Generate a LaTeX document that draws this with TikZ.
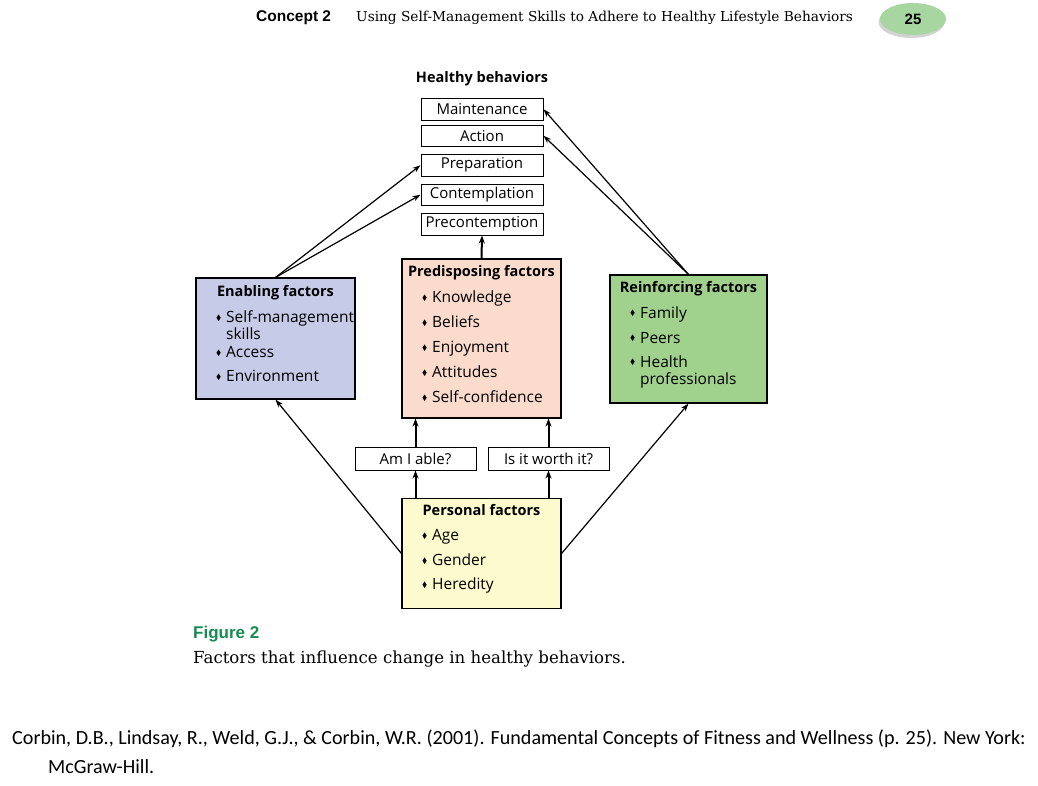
\documentclass[tikz,border=0pt]{standalone}
\usepackage{amssymb}
\usepackage{fontspec}
\setmainfont{Open Sans}
\newfontfamily\serifo{DejaVu Serif}
\newfontfamily\helv{Liberation Sans}
\newfontfamily\cita{Carlito}
\usetikzlibrary{positioning,arrows.meta,shapes.geometric,shadows}
\definecolor{azul}{RGB}{198,203,232}
\definecolor{salmon}{RGB}{251,220,204}
\definecolor{verde}{RGB}{160,210,141}
\definecolor{amarillo}{RGB}{253,251,205}
\definecolor{verdefig}{RGB}{22,140,80}
\definecolor{verdepag}{RGB}{168,214,160}
\tikzset{arista/.style={line width=1.2pt,-{Stealth[length=8pt,width=5.5pt]}}}
\tikzset{aristagruesa/.style={line width=2pt,-{Stealth[length=8pt,width=6pt]}}}
\tikzset{etapa/.style={draw,line width=1pt,fill=white,minimum width=122pt,minimum height=21.5pt,inner sep=0pt}}
\tikzset{factor/.style={draw,line width=1.1pt,align=center,inner sep=0pt}}
\tikzset{pregunta/.style={draw,line width=1pt,minimum width=121pt,minimum height=23pt,inner sep=0pt}}
\tikzset{texto/.style={inner sep=0pt,anchor=west}}
\newcommand{\punto}{\raisebox{0.28ex}{\scalebox{0.5}{$\blacklozenge$}}\nobreak\hspace{5pt}\nobreak}
\newcommand{\encab}[1]{{\bfseries\fontsize{14.5}{17}\selectfont #1}}
\newcommand{\lista}[2]{\parbox[t]{#1}{\raggedright\hyphenpenalty=10000\exhyphenpenalty=10000\fontsize{15.5}{17}\selectfont #2\par\vspace{9pt}}}

\begin{document}
\begin{tikzpicture}[x=1pt,y=-1pt,every node/.style={font=\fontsize{15}{17}\selectfont}]
            \useasboundingbox (0,0) rectangle (1038,785);
            \node[texto,font=\helv\bfseries\fontsize{15.5}{17}\selectfont] (concepto) at (256,18) {Concept 2};
            \node[texto,font=\serifo\fontsize{13.7}{17}\selectfont] (titular) at (356,18) {Using Self-Management Skills to Adhere to Healthy Lifestyle Behaviors};
            \node[ellipse,fill=verdepag,minimum width=66pt,minimum height=32pt,drop shadow={shadow xshift=-1.5pt,shadow yshift=-3pt,opacity=0.35},font=\helv\bfseries\fontsize{15}{17}\selectfont] (pagina) at (913,19) {25};

            \node[] (titulo) at (482,79) {\encab{Healthy behaviors}};
            \node[etapa] (mant) at (482,109.25) {Maintenance};
            \node[etapa, below= 4pt of mant] (acc)  {Action};
            \node[etapa, below= 7pt of acc]  (prep) {Preparation};
            \node[etapa, below= 7pt of prep] (cont) {Contemplation};
            \node[etapa, below= 7pt of cont] (prec) {Precontemption};

            \node[factor,fill=azul,minimum width=159pt,minimum height=121pt] (habil) at (275.5,338.5)
                {\encab{Enabling factors}\\[9pt]\lista{119pt}{\punto Self-management\\ \phantom{\punto}skills\\[1pt] \punto Access\\[7pt] \punto Environment}};
            \node[factor,fill=salmon,minimum width=159pt,minimum height=159pt] (predis) at (481.5,338.5)
                {\encab{Predisposing factors}\\[9pt]\lista{119pt}{\punto Knowledge\\[8pt] \punto Beliefs\\[8pt] \punto Enjoyment\\[8pt] \punto Attitudes\\[8pt] \punto Self-confidence}};
            \node[factor,fill=verde,minimum width=157pt,minimum height=128pt] (refuer) at (688.5,339)
                {\encab{Reinforcing factors}\\[9pt]\lista{117pt}{\punto Family\\[8pt] \punto Peers\\[7pt] \punto Health\\ \phantom{\punto}professionals}};
            \node[factor,fill=amarillo,minimum width=159pt,minimum height=110pt] (pers) at (481.5,553.5)
                {\encab{Personal factors}\\[8pt]\lista{119pt}{\punto Age\\[8pt] \punto Gender\\[7pt] \punto Heredity}};

            \node[pregunta] (capaz) at (415.5,458.5) {Am I able?};
            \node[pregunta] (vale)  at (548.5,458.5) {Is it worth it?};

            \draw[arista] (habil.north) to (prep.west);
            \draw[arista] (habil.north) to (cont.west);
            \draw[arista] (refuer.north) to (mant.east);
            \draw[arista] (refuer.north) to (acc.east);
            \draw[aristagruesa] (predis.north) to (prec.south);
            \draw[aristagruesa] (capaz.south |- pers.north) to (capaz.south);
            \draw[aristagruesa] (capaz.north) to (capaz.north |- predis.south);
            \draw[aristagruesa] (vale.south |- pers.north) to (vale.south);
            \draw[aristagruesa] (vale.north) to (vale.north |- predis.south);
            \draw[arista] (pers.west) to (habil.south);
            \draw[arista] (pers.east) to (refuer.south);

            \node[texto,font=\helv\bfseries\fontsize{17}{19}\selectfont,text=verdefig] (figura) at (193,634) {Figure 2};
            \node[texto,font=\serifo\fontsize{16.6}{20}\selectfont] (leyenda) at (193,659) {Factors that influence change in healthy behaviors.};
            \node[texto,font=\cita\fontsize{20.1}{22}\selectfont] (cita1) at (12,739) {Corbin, D.B., Lindsay, R., Weld, G.J., \& Corbin, W.R. (2001). Fundamental Concepts of Fitness and Wellness (p. 25). New York:};
            \node[texto,font=\cita\fontsize{20.1}{22}\selectfont] (cita2) at (48,767) {McGraw-Hill.};
        \end{tikzpicture}
\end{document}
